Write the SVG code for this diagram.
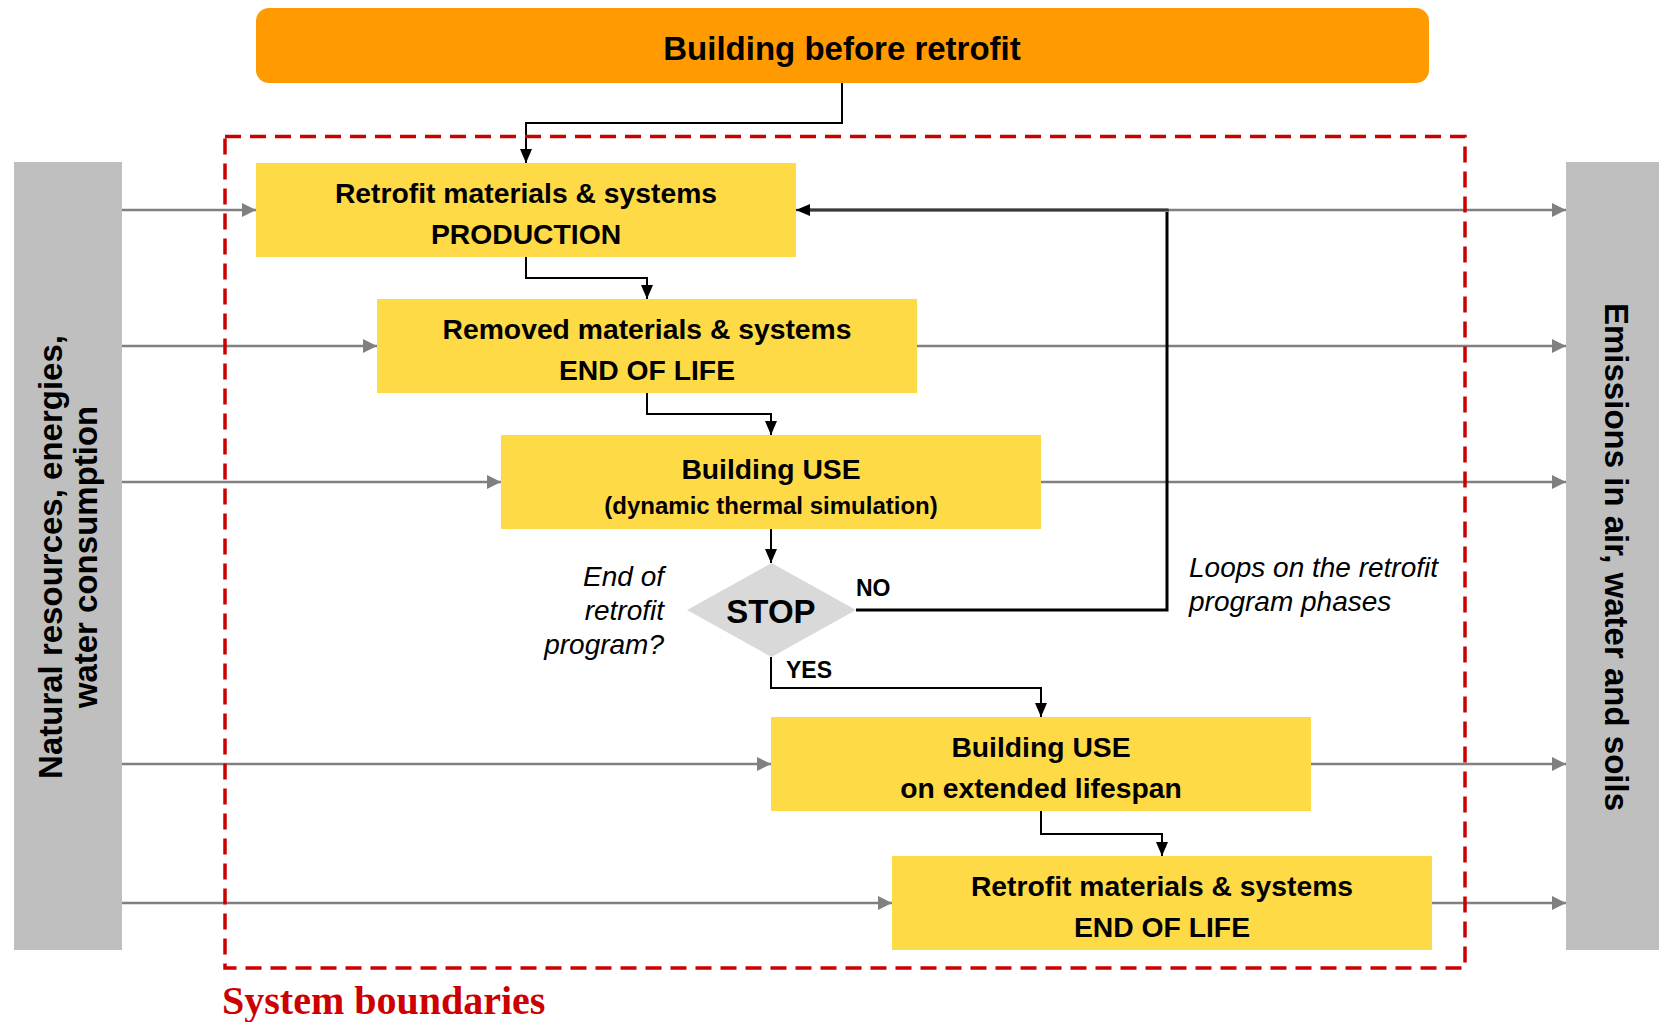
<svg xmlns="http://www.w3.org/2000/svg" width="1659" height="1022" viewBox="0 0 1659 1022">
<style>
.box{fill:#FFDA47;}
.bar{fill:#BFBFBF;}
.t{font-family:"Liberation Sans",Arial,sans-serif;font-weight:bold;fill:#000;text-anchor:middle;}
.it{font-family:"Liberation Sans",Arial,sans-serif;font-style:italic;fill:#000;font-size:28px;}
.con{fill:none;stroke:#000;stroke-width:2;marker-end:url(#ab);}
.flow{fill:none;stroke:#808080;stroke-width:2.5;marker-end:url(#ag);}
</style>
<defs>
<marker id="ab" viewBox="0 0 14 12" refX="14" refY="6" markerWidth="14" markerHeight="12" markerUnits="userSpaceOnUse" orient="auto"><path d="M0,0 L14,6 L0,12 z" fill="#000"/></marker>
<marker id="ag" viewBox="0 0 14 14" refX="14" refY="7" markerWidth="14" markerHeight="14" markerUnits="userSpaceOnUse" orient="auto"><path d="M0,0 L14,7 L0,14 z" fill="#808080"/></marker>
</defs>
<rect width="1659" height="1022" fill="#fff"/>

<g id="inputs-bar">
<rect class="bar" x="14" y="162" width="108" height="788"/>
<text class="t" font-size="33" transform="translate(62,557) rotate(-90)">Natural resources, energies,</text>
<text class="t" font-size="33" transform="translate(97,557) rotate(-90)">water consumption</text>
</g>
<g id="outputs-bar">
<rect class="bar" x="1566" y="162" width="93" height="788"/>
<text class="t" font-size="33" transform="translate(1605,557) rotate(90)">Emissions in air, water and soils</text>
</g>

<g id="connectors">
<line class="flow" x1="122" y1="210" x2="256" y2="210"/>
<line class="flow" x1="122" y1="346" x2="377" y2="346"/>
<line class="flow" x1="122" y1="482" x2="501" y2="482"/>
<line class="flow" x1="122" y1="764" x2="771" y2="764"/>
<line class="flow" x1="122" y1="903" x2="892" y2="903"/>
<line class="flow" x1="796" y1="210" x2="1566" y2="210"/>
<line class="flow" x1="917" y1="346" x2="1566" y2="346"/>
<line class="flow" x1="1041" y1="482" x2="1566" y2="482"/>
<line class="flow" x1="1311" y1="764" x2="1566" y2="764"/>
<line class="flow" x1="1432" y1="903" x2="1566" y2="903"/>
<polyline class="con" points="842,83 842,123 526,123 526,163"/>
<polyline class="con" points="526,257 526,278 647,278 647,299"/>
<polyline class="con" points="647,393 647,414 771,414 771,435"/>
<polyline class="con" points="771,529 771,563"/>
<polyline class="con" points="771,657 771,688 1041,688 1041,717"/>
<polyline class="con" points="1041,811 1041,834 1162,834 1162,856"/>
<polyline points="856,610 1167,610 1167,209" fill="none" stroke="#000" stroke-width="3"/>
<line x1="1168.5" y1="210" x2="800" y2="210" stroke="#808080" stroke-width="4"/>
<line x1="1168.5" y1="210" x2="796" y2="210" stroke="#222" stroke-width="1.5" marker-end="url(#ab)"/>
</g>

<g id="node-title">
<rect x="256" y="8" width="1173" height="75" rx="13" fill="#FF9B00"/>
<text class="t" x="842" y="60" font-size="33">Building before retrofit</text>
</g>

<g id="node-production">
<rect class="box" x="256" y="163" width="540" height="94"/>
<text class="t" x="526" y="203" font-size="28.3">Retrofit materials &amp; systems</text>
<text class="t" x="526" y="244" font-size="28.3">PRODUCTION</text>
</g>
<g id="node-removed">
<rect class="box" x="377" y="299" width="540" height="94"/>
<text class="t" x="647" y="339" font-size="28.3">Removed materials &amp; systems</text>
<text class="t" x="647" y="380" font-size="28.3">END OF LIFE</text>
</g>
<g id="node-use">
<rect class="box" x="501" y="435" width="540" height="94"/>
<text class="t" x="771" y="479" font-size="28.3">Building USE</text>
<text class="t" x="771" y="514" font-size="24">(dynamic thermal simulation)</text>
</g>
<g id="node-stop">
<polygon points="687,610 771.5,563 856,610 771.5,657" fill="#D9D9D9"/>
<text class="t" x="771" y="623" font-size="33">STOP</text>
</g>
<g id="node-use-extended">
<rect class="box" x="771" y="717" width="540" height="94"/>
<text class="t" x="1041" y="757" font-size="28.3">Building USE</text>
<text class="t" x="1041" y="798" font-size="28.3">on extended lifespan</text>
</g>
<g id="node-eol">
<rect class="box" x="892" y="856" width="540" height="94"/>
<text class="t" x="1162" y="896" font-size="28.3">Retrofit materials &amp; systems</text>
<text class="t" x="1162" y="937" font-size="28.3">END OF LIFE</text>
</g>

<g id="labels">
<text class="t" x="856" y="596" font-size="23" style="text-anchor:start">NO</text>
<text class="t" x="786" y="678" font-size="23" style="text-anchor:start">YES</text>
<text class="it" x="664" y="586" text-anchor="end">End of</text>
<text class="it" x="664" y="620" text-anchor="end">retrofit</text>
<text class="it" x="664" y="654" text-anchor="end">program?</text>
<text class="it" x="1189" y="577">Loops on the retrofit</text>
<text class="it" x="1189" y="611">program phases</text>
</g>

<g id="system-boundary">
<rect x="225" y="136.5" width="1240" height="831.5" fill="none" stroke="#CC0000" stroke-width="3.5" stroke-dasharray="16 9"/>
<text x="222" y="1014" font-family="'Liberation Serif','Times New Roman',serif" font-weight="bold" font-size="40" fill="#CC0000">System boundaries</text>
</g>
</svg>
